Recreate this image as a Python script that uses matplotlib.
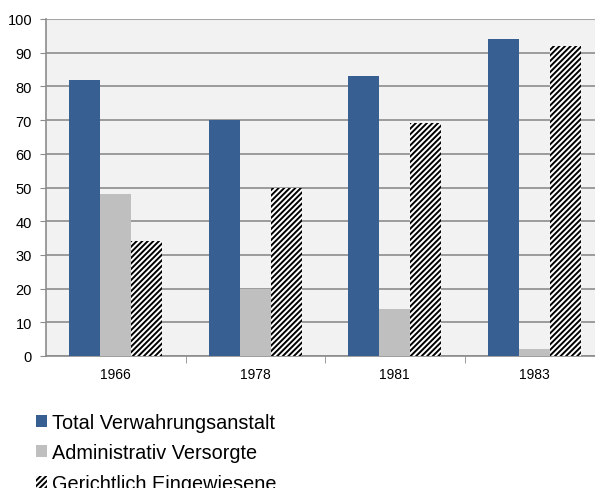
import matplotlib.pyplot as plt
import numpy as np

plt.rcParams['font.family'] = ['Liberation Sans', 'DejaVu Sans']
plt.rcParams['hatch.linewidth'] = 1.4

years = ["1966", "1978", "1981", "1983"]
total = [82, 70, 83, 94]
admin = [48, 20, 14, 2]
gericht = [34, 50, 69, 92]
labels = ["Total Verwahrungsanstalt", "Administrativ Versorgte", "Gerichtlich Eingewiesene"]

fig = plt.figure(figsize=(5.95, 4.89), dpi=100)
ax = fig.add_axes([46 / 595, 132 / 489, 558 / 595, 337 / 489])
ax.set_facecolor("#f2f2f2")

x = np.arange(len(years))
w = 0.222
ax.bar(x - w, total, w, color="#375f91", label=labels[0], zorder=3)
ax.bar(x, admin, w, color="#bfbfbf", label=labels[1], zorder=3)
ax.bar(x + w, gericht, w, color="white", edgecolor="black", linewidth=0,
       hatch="//////", label=labels[2], zorder=3)

ax.set_xlim(-0.5, 3.5)
ax.set_ylim(0, 100)
ax.set_yticks(range(0, 101, 10))
ax.set_xticks(x)
ax.set_xticklabels(years)
ax.set_xticks([0.5, 1.5, 2.5], minor=True)
ax.tick_params(axis="x", which="major", length=0, labelsize=10, pad=8)
ax.tick_params(axis="x", which="minor", length=5, color="#8c8c8c")
ax.tick_params(axis="y", length=4, color="#8c8c8c", labelsize=10.5, pad=6)
ax.grid(axis="y", color="#8c8c8c", linewidth=1.2, zorder=0)
ax.set_axisbelow(True)
for s in ["top", "right"]:
    ax.spines[s].set_visible(False)
for s in ["left", "bottom"]:
    ax.spines[s].set_color("#8c8c8c")
    ax.spines[s].set_linewidth(1.2)
ax.axhline(100, color="#a6a6a6", linewidth=1.5, zorder=1)

fig.legend(loc="upper left", bbox_to_anchor=(0.06, 0.154), frameon=False,
           fontsize=14.3, handlelength=0.55, handleheight=0.55, handletextpad=0.25,
           labelspacing=0.58, borderpad=0, borderaxespad=0)

fig.savefig("out.png", dpi=100)
